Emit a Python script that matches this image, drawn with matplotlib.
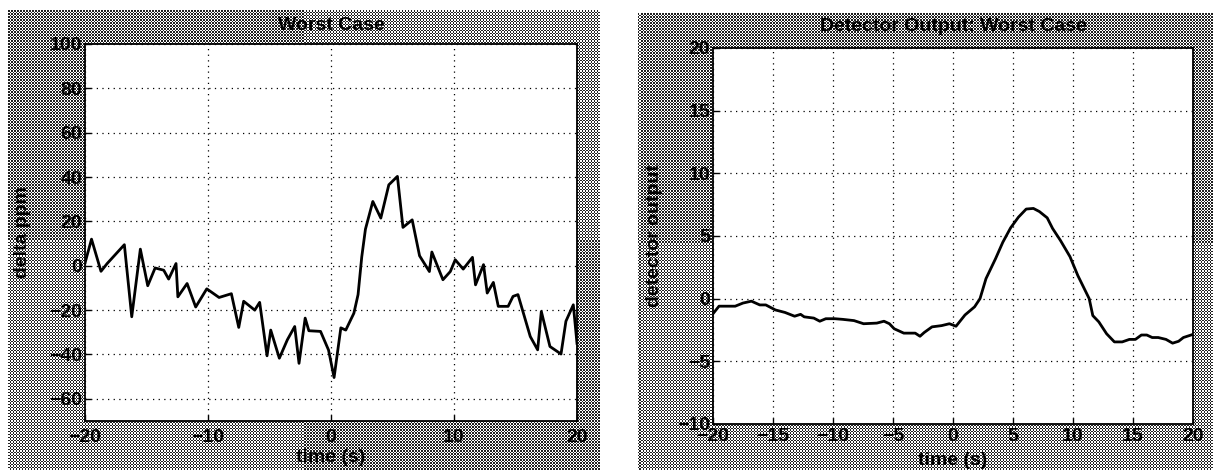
import matplotlib
matplotlib.use('Agg')
import matplotlib.pyplot as plt
import numpy as np

plt.rcParams['font.family'] = ['Liberation Sans', 'DejaVu Sans']
plt.rcParams['font.weight'] = 'bold'

# left panel: raw signal
t_raw = [-20, -19.47, -18.7, -18.2, -16.8, -16.2, -15.5, -14.9, -14.3, -13.6,
         -13.2, -12.6, -12.45, -11.7, -11.0, -10.1, -9.1, -8.1, -7.5, -7.1,
         -6.2, -5.8, -5.2, -4.9, -4.2, -3.55, -2.95, -2.6, -2.1, -1.8,
         -0.85, -0.2, 0.25, 0.8, 1.2, 1.86, 2.2, 2.5, 2.8, 3.4,
         4.05, 4.7, 5.4, 5.85, 6.6, 7.2, 8.0, 8.2, 9.1, 9.7,
         10.1, 10.75, 11.5, 11.75, 12.4, 12.7, 13.2, 13.6, 14.4, 14.8,
         15.2, 16.2, 16.8, 17.1, 17.8, 18.7, 19.1, 19.7, 20]
delta_ppm = [1.2, 12, -2.5, 1, 9.5, -23, 7.5, -9, -1, -2,
             -6, 1, -14, -8, -18.6, -10.4, -14.3, -12.6, -27.8, -16,
             -20, -16.5, -40.6, -29, -41.7, -33.4, -27.4, -44, -23.6, -29.3,
             -29.6, -38, -50.4, -28, -29, -21.4, -13, 4, 16.5, 29,
             21.5, 36.5, 40.3, 17.3, 20.7, 4.5, -2.6, 6.2, -6.3, -2.6,
             2.7, -1.5, 3.8, -8.6, 0.5, -12.3, -7.5, -18.3, -18.3, -13.8,
             -13, -31.9, -37.9, -20.6, -36.4, -39.8, -25, -17.6, -35]

# right panel: detector output
t_det = [-20, -19.5, -18.15, -17.5, -16.8, -16.1, -15.6, -14.8, -14.0, -13.2,
         -12.7, -12.4, -11.6, -11.1, -10.6, -9.85, -9.2, -8.25, -7.45, -6.35,
         -5.75, -5.3, -4.9, -4.1, -3.15, -2.75, -2.4, -1.75, -0.95, -0.3,
         0.25, 1.0, 1.8, 2.25, 2.75, 3.55, 4.15, 4.8, 5.45, 6.1,
         6.7, 7.2, 7.85, 8.3, 8.95, 9.75, 10.4, 11.35, 11.65, 12.15,
         12.8, 13.45, 14.1, 14.7, 15.2, 15.7, 16.15, 16.6, 17.1, 17.75,
         18.3, 18.8, 19.2, 20]
det_out = [-1.2, -0.6, -0.6, -0.35, -0.2, -0.5, -0.5, -0.9, -1.1, -1.4,
           -1.25, -1.45, -1.55, -1.8, -1.6, -1.6, -1.65, -1.75, -2.0, -1.95,
           -1.8, -2.0, -2.4, -2.75, -2.75, -3.0, -2.7, -2.25, -2.15, -2.0,
           -2.2, -1.3, -0.65, 0, 1.6, 3.2, 4.5, 5.65, 6.5, 7.15,
           7.2, 6.95, 6.45, 5.6, 4.65, 3.35, 1.85, 0, -1.35, -1.85,
           -2.8, -3.45, -3.45, -3.25, -3.25, -2.9, -2.9, -3.1, -3.1, -3.25,
           -3.55, -3.4, -3.1, -2.85]

W, H = 1213, 470
FS = 14
fig = plt.figure(figsize=(W / 100, H / 100), dpi=100)


def stipple(x0, y0, x1, y1):
    # grey dithered backdrop, pixel box (x0,y0)-(x1,y1) from top-left
    bg = fig.add_axes([x0 / W, 1 - y1 / H, (x1 - x0) / W, (y1 - y0) / H])
    nx, ny = int((x1 - x0) / 1.5), int((y1 - y0) / 1.5)
    ii, jj = np.indices((ny, nx))
    board = ((ii + jj) % 2).astype(float)
    bg.imshow(board, cmap='gray', vmin=-0.15, vmax=1, aspect='auto',
              interpolation='nearest')
    bg.axis('off')


def panel(x0, y0, x1, y1):
    return fig.add_axes([x0 / W, 1 - y1 / H, (x1 - x0) / W, (y1 - y0) / H])


def style(ax):
    ax.set_facecolor('white')
    ax.grid(True, color='black', linestyle=(0, (1, 3.5)), linewidth=0.9)
    ax.tick_params(direction='in', length=4, width=1, labelsize=FS)
    for sp in ax.spines.values():
        sp.set_linewidth(1.3)
    for lab in ax.get_xticklabels() + ax.get_yticklabels():
        lab.set_fontweight('bold')


stipple(8, 10, 600, 470)
stipple(638, 13, 1213, 470)

# left
ax1 = panel(85, 44, 577, 421)
ax1.plot(t_raw, delta_ppm, color='black', linewidth=2)
ax1.set_xlim(-20, 20)
ax1.set_ylim(-70, 100)
ax1.set_xticks([-20, -10, 0, 10, 20])
ax1.set_yticks([-60, -40, -20, 0, 20, 40, 60, 80, 100])
style(ax1)
ax1.tick_params(axis='x', pad=6)
ax1.tick_params(axis='y', pad=2)
ax1.set_title('Worst Case', fontsize=FS, fontweight='bold', pad=10)
ax1.set_xlabel('time (s)', fontsize=FS, fontweight='bold')
ax1.set_ylabel('delta ppm', fontsize=FS, fontweight='bold')
ax1.xaxis.set_label_coords(0.5, -0.075)
ax1.yaxis.set_label_coords(-0.11, 0.5)

# right
ax2 = panel(713, 48, 1193, 424)
ax2.plot(t_det, det_out, color='black', linewidth=2)
ax2.set_xlim(-20, 20)
ax2.set_ylim(-10, 20)
ax2.set_xticks(np.arange(-20, 21, 5))
ax2.set_yticks(np.arange(-10, 21, 5))
style(ax2)
ax2.tick_params(axis='x', pad=3)
ax2.tick_params(axis='y', pad=2)
ax2.set_title('Detector Output: Worst Case', fontsize=FS, fontweight='bold', pad=12)
ax2.set_xlabel('time (s)', fontsize=FS, fontweight='bold')
ax2.set_ylabel('detector output', fontsize=FS, fontweight='bold')
ax2.xaxis.set_label_coords(0.5, -0.075)
ax2.yaxis.set_label_coords(-0.105, 0.5)

fig.savefig('out.png', dpi=100)
